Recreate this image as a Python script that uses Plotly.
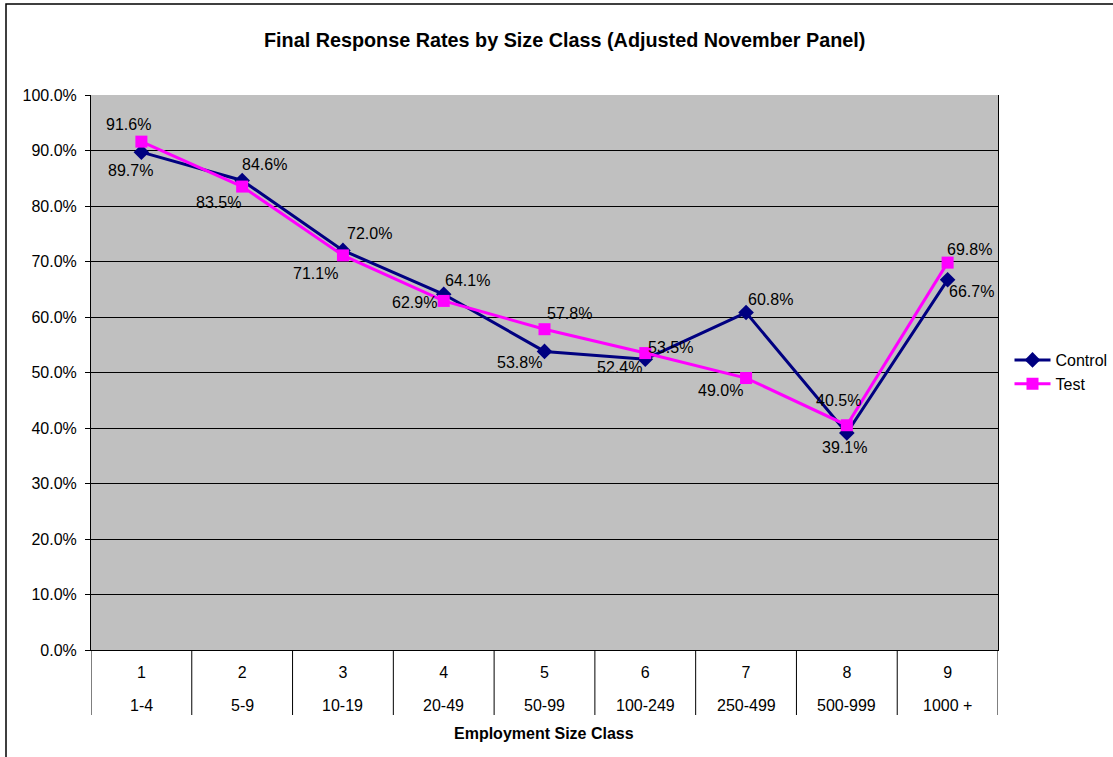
import plotly.graph_objects as go

size_codes = ["1", "2", "3", "4", "5", "6", "7", "8", "9"]
size_ranges = ["1-4", "5-9", "10-19", "20-49", "50-99", "100-249", "250-499", "500-999", "1000 +"]
control = [89.7, 84.6, 72.0, 64.1, 53.8, 52.4, 60.8, 39.1, 66.7]
test = [91.6, 83.5, 71.1, 62.9, 57.8, 53.5, 49.0, 40.5, 69.8]

# label offsets (pixels) for data labels
control_off = [(-11, 18), (22, -16), (27, -17), (24, -14), (-25, 11), (-26, 8), (24, -13), (-2, 14), (24, 12)]
test_off = [(-13, -17), (-24, 16), (-27, 18), (-29, 2), (25, -16), (25, -6), (-26, 12), (-8, -25), (22, -13)]

W, H = 1113, 757
L, R, B = 91, 115, 107
PLOT_TOP = 95
pw = W - L - R
paper_h = H - B  # top margin 0; plot area set via y domain
ph = paper_h - PLOT_TOP

def px_x(p):
    return (p - L) / pw

def px_y(p):
    return (paper_h - p) / paper_h

FONT = "Liberation Sans, Arial, sans-serif"
FS = 16
x = list(range(1, len(size_codes) + 1))

fig = go.Figure()
fig.add_trace(go.Scatter(x=x, y=control, name="Control", mode="lines+markers",
                         line=dict(color="#000080", width=3),
                         marker=dict(symbol="diamond", size=12, color="#000080")))
fig.add_trace(go.Scatter(x=x, y=test, name="Test", mode="lines+markers",
                         line=dict(color="#FF00FF", width=3),
                         marker=dict(symbol="square", size=12, color="#FF00FF")))

anns = []
for xi, v, (dx, dy) in zip(x, control, control_off):
    anns.append(dict(x=xi, y=v, xref="x", yref="y", text=f"{v:.1f}%", showarrow=False,
                     xshift=dx, yshift=-dy, font=dict(size=FS, color="#000000", family=FONT)))
for xi, v, (dx, dy) in zip(x, test, test_off):
    anns.append(dict(x=xi, y=v, xref="x", yref="y", text=f"{v:.1f}%", showarrow=False,
                     xshift=dx, yshift=-dy, font=dict(size=FS, color="#000000", family=FONT)))
for xi, rng in zip(x, size_ranges):
    anns.append(dict(x=xi, y=px_y(705), xref="x", yref="paper", text=rng, showarrow=False,
                     yanchor="middle", font=dict(size=FS, color="#000000", family=FONT)))
anns.append(dict(x=px_x(564), y=px_y(40), xref="paper", yref="paper",
                 text="<b>Final Response Rates by Size Class (Adjusted November Panel)</b>",
                 showarrow=False, yanchor="middle", font=dict(size=19.8, color="#000000", family=FONT)))
anns.append(dict(x=px_x(544), y=px_y(733), xref="paper", yref="paper",
                 text="<b>Employment Size Class</b>", showarrow=False, yanchor="middle",
                 font=dict(size=FS, color="#000000", family=FONT)))

shapes = []
for i in range(len(size_codes) + 1):
    shapes.append(dict(type="line", xref="x", yref="paper", x0=0.5 + i, x1=0.5 + i,
                       y0=0, y1=px_y(715), line=dict(color="#000000", width=1)))
shapes.append(dict(type="rect", xref="paper", yref="paper", x0=px_x(6), x1=px_x(1120),
                   y0=px_y(770), y1=px_y(4), line=dict(color="#000000", width=1.5),
                   fillcolor="rgba(0,0,0,0)", layer="below"))

fig.update_layout(
    width=W, height=H,
    margin=dict(l=L, r=R, t=0, b=B),
    paper_bgcolor="#FFFFFF", plot_bgcolor="#C0C0C0",
    font=dict(family=FONT, size=FS, color="#000000"),
    showlegend=True,
    legend=dict(x=px_x(1112.5), y=px_y(372), xanchor="right", yanchor="middle",
                font=dict(size=FS, family=FONT), bgcolor="rgba(0,0,0,0)", tracegroupgap=0,
                itemwidth=36),
    annotations=anns, shapes=shapes,
)
fig.update_xaxes(range=[0.5, 9.5], tickvals=x, ticktext=size_codes, showgrid=False,
                 zeroline=False, showline=True, linecolor="#000000", linewidth=1,
                 ticks="", ticklabelstandoff=8, tickfont=dict(size=FS), fixedrange=True,
                 automargin=False)
fig.update_yaxes(range=[0, 100], domain=[0, ph / paper_h], tickvals=list(range(0, 101, 10)),
                 ticktext=[f"{v:.1f}%" for v in range(0, 101, 10)],
                 showgrid=True, gridcolor="#000000", gridwidth=1, zeroline=False,
                 showline=True, linecolor="#000000", linewidth=1, mirror=True,
                 ticks="outside", ticklen=5, tickcolor="#000000", tickfont=dict(size=FS),
                 ticklabelstandoff=5, automargin=False)

fig.write_html("out.html", config={"displayModeBar": False},
               post_script="document.body.style.margin='0';")
